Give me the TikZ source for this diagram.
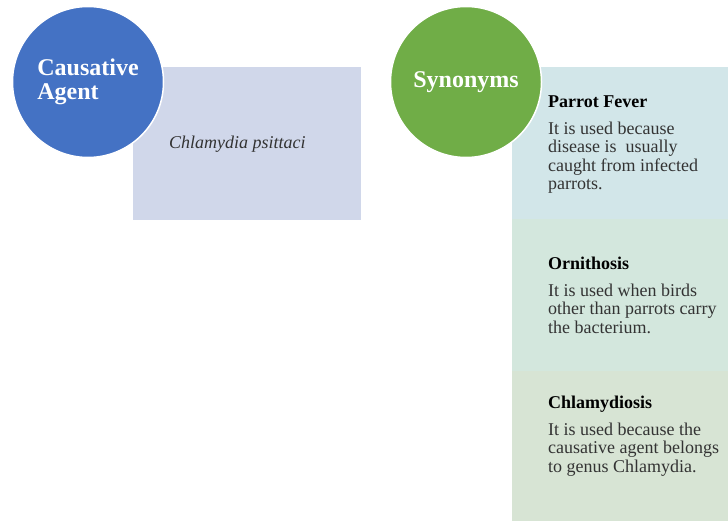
\documentclass[tikz,border=0pt]{standalone}
\usepackage{fontspec}
\setmainfont{Liberation Serif}
\usetikzlibrary{positioning}

\definecolor{agentblue}{HTML}{4472C4}
\definecolor{synogreen}{HTML}{70AD47}
\definecolor{agentfill}{HTML}{D0D7EA}
\definecolor{feverfill}{HTML}{D2E6E9}
\definecolor{ornifill}{HTML}{D3E7DD}
\definecolor{chlamyfill}{HTML}{D7E4D4}
\definecolor{bodygray}{HTML}{333333}

\begin{document}
\begin{tikzpicture}[
     x = 1pt, y = -1pt,
     bubble/.style = {circle, draw = white, line width = 1.5pt,
       minimum size = 151pt, inner sep = 0pt, text = white, align = left,
       font = \fontsize{24}{24.5}\selectfont\bfseries},
     panel/.style = {anchor = north west, inner sep = 0pt,
       minimum width = 216pt, minimum height = 152pt},
     head/.style = {anchor = base west, inner sep = 0pt,
       font = \fontsize{18}{18.5}\selectfont\bfseries},
     body/.style = {anchor = north west, inner sep = 0pt, align = left,
       text = bodygray, font = \fontsize{18}{18.5}\selectfont}
    ]
    \useasboundingbox (0,0) rectangle (728,521);

    % panels behind the circles
    \node[panel, fill = agentfill, minimum width = 228pt, minimum height = 153pt]
      (agentpanel) at (133,67) {};
    \node[panel, fill = feverfill] (feverpanel) at (512,67) {};
    \node[panel, fill = ornifill] (orniPanel) at (512,219) {};
    \node[panel, fill = chlamyfill, minimum height = 150pt] (chlamypanel) at (512,371) {};

    % circles
    \node[bubble, fill = agentblue] (agent) at (88,82) {Causative\\Agent};
    \node[bubble, fill = synogreen] (synonyms) at (466,82) {Synonyms};

    % texts
    \node[anchor = base west, inner sep = 0pt, text = bodygray,
      font = \fontsize{18}{18.5}\selectfont\itshape] (psittaci) at (169,149)
      {Chlamydia psittaci};

    \node[head] (fever) at (548,108) {Parrot Fever};
    \node[body] (feverbody) at (548,121.7)
      {It is used because\\disease is \ usually\\caught from infected\\parrots.};

    \node[head] (orni) at (548,270) {Ornithosis};
    \node[body] (ornibody) at (548,283.7)
      {It is used when birds\\other than parrots carry\\the bacterium.};

    \node[head] (chlamy) at (548,408) {Chlamydiosis};
    \node[body] (chlamybody) at (548,422.7)
      {It is used because the\\causative agent belongs\\to genus Chlamydia.};

   \end{tikzpicture}
\end{document}
